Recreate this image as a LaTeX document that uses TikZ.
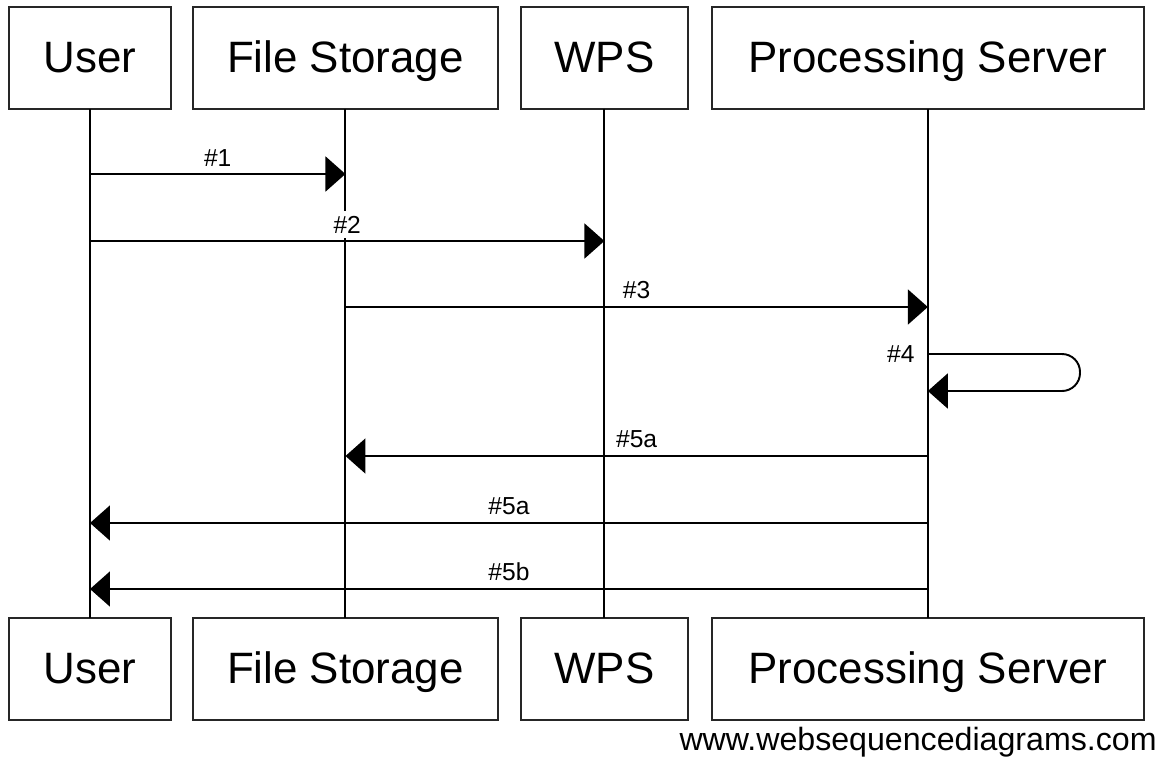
\documentclass[tikz,border=0pt]{standalone}
\usepackage{fontspec}
\setmainfont{Liberation Sans}
\usetikzlibrary{arrows.meta,positioning,calc}

\begin{document}
\begin{tikzpicture}[x=0.02cm, y=-0.02cm,
    box/.style={draw=black!85, line width=1.1pt, minimum height=2.04cm, inner sep=0pt, outer sep=0pt, text height=18pt, text depth=1pt, font=\fontsize{25}{30}\selectfont},
    arr/.style={-{Triangle[length=4mm,width=7mm]}, line width=1.1pt},
    life/.style={line width=1.1pt},
    lab/.style={font=\fontsize{14}{16}\selectfont, inner sep=3pt, fill=white}
  ]
    \useasboundingbox (0,0) rectangle (1162,758);
    \node[box, minimum width=3.24cm] (usr) at (90,58) {User};
    \node[box, minimum width=6.1cm, right=0.44cm of usr] (fst) {File Storage};
    \node[box, minimum width=3.34cm, right=0.46cm of fst] (wps) {WPS};
    \node[box, minimum width=8.64cm, right=0.48cm of wps] (prc) {Processing Server};
    \node[box, minimum width=3.24cm, below=10.18cm of usr] (usr2) {User};
    \node[box, minimum width=6.1cm, below=10.18cm of fst] (fst2) {File Storage};
    \node[box, minimum width=3.34cm, below=10.18cm of wps] (wps2) {WPS};
    \node[box, minimum width=8.64cm, below=10.18cm of prc] (prc2) {Processing Server};
    \foreach \n in {usr,fst,wps,prc}
      \draw[life] (\n) -- (\n2);
    \coordinate (m1) at (0,174);
    \coordinate (m2) at (0,241);
    \coordinate (m3) at (0,307);
    \coordinate (m4) at (0,354);
    \coordinate (m4b) at (0,391);
    \coordinate (m5) at (0,456);
    \coordinate (m6) at (0,523);
    \coordinate (m7) at (0,589);
    \coordinate (lp) at (1080,0);
    \draw[arr] (usr |- m1) -- node[lab, above=1pt] {\#1} (fst |- m1);
    \draw[arr] (usr |- m2) -- node[lab, above=1pt] {\#2} (wps |- m2);
    \draw[arr] (fst |- m3) -- node[lab, above=1pt] {\#3} (prc |- m3);
    \draw[arr, rounded corners=0.36cm] (prc |- m4) -- node[pos=0, lab, left=4pt] {\#4} (lp |- m4) -- (lp |- m4b) -- (prc |- m4b);
    \draw[arr] (prc |- m5) -- node[lab, above=1pt] {\#5a} (fst |- m5);
    \draw[arr] (prc |- m6) -- node[lab, above=1pt] {\#5a} (usr |- m6);
    \draw[arr] (prc |- m7) -- node[lab, above=1pt] {\#5b} (usr |- m7);
    \node[font=\fontsize{18.3}{21}\selectfont, anchor=base east, inner sep=0pt] (web) at (1157,750) {www.websequencediagrams.com};
  \end{tikzpicture}
\end{document}
